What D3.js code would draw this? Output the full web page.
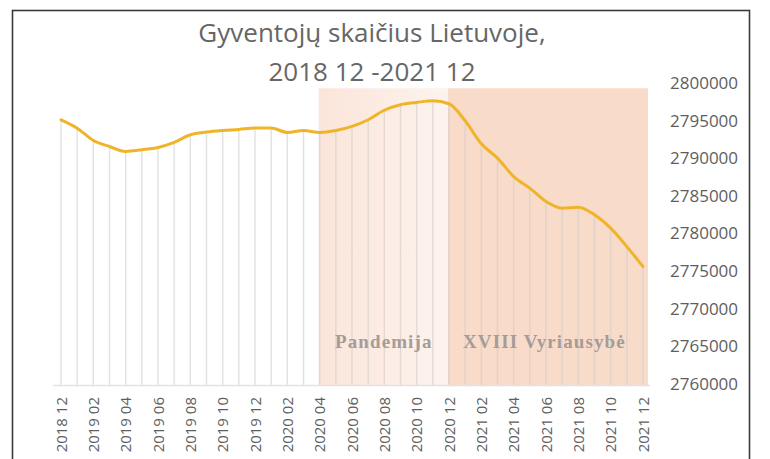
<!DOCTYPE html>
<html lang="lt">
<head>
<meta charset="UTF-8">
<title>Gyventojų skaičius Lietuvoje</title>
<script src="https://d3js.org/d3.v7.min.js"></script>
<style>
body { margin: 0; background: #fff; }
svg { display: block; }
.title { font-family: "Open Sans", "Liberation Sans", sans-serif; font-size: 26px; fill: #666; text-anchor: middle; }
.axis text { font-family: "Open Sans", "Liberation Sans", sans-serif; fill: #5e5e5e; }
.axis path, .axis line { display: none; }
.period { font-family: "Liberation Serif", serif; font-weight: bold; font-size: 19px; fill: #a59c97; letter-spacing: 1.1px; }
</style>
</head>
<body>
<script>
// menesiai ir gyventoju skaicius
var months = ["2018 12","2019 01","2019 02","2019 03","2019 04","2019 05","2019 06","2019 07","2019 08","2019 09","2019 10","2019 11","2019 12",
              "2020 01","2020 02","2020 03","2020 04","2020 05","2020 06","2020 07","2020 08","2020 09","2020 10","2020 11","2020 12",
              "2021 01","2021 02","2021 03","2021 04","2021 05","2021 06","2021 07","2021 08","2021 09","2021 10","2021 11","2021 12"];
var population = [2795100,2794000,2792360,2791560,2790900,2791130,2791430,2792100,2793120,2793480,2793690,2793830,2794010,
                  2794010,2793430,2793690,2793430,2793690,2794230,2795120,2796380,2797110,2797420,2797640,2797240,
                  2794980,2791920,2790020,2787570,2786030,2784250,2783370,2783500,2782480,2780710,2778260,2775600];
var yTicks = [2760000,2765000,2770000,2775000,2780000,2785000,2790000,2795000,2800000];
var periodNames = ["Pandemija", "XVIII Vyriausybė"];
var periodFrom = ["2020 04", "2020 12"];
var periodTo = ["2020 12", "2021 12"];
var titleLines = ["Gyventojų skaičius Lietuvoje,", "2018 12 -2021 12"];

var width = 770, height = 459;
var svg = d3.select('body').append('svg')
    .attr('width', width).attr('height', height);

// remelis
svg.append('rect')
   .attr('x', 12.5).attr('y', 10.5)
   .attr('width', 737).attr('height', 480)
   .attr('fill', '#fff')
   .attr('stroke', '#3a3a3a').attr('stroke-width', 1.6);

var xScale = d3.scalePoint().domain(months).range([61, 643]);
var yScale = d3.scaleLinear().domain([2760000, 2800000]).range([384, 83]);
var plotBottom = 385;

// gradientas pandemijai
var defs = svg.append('defs');
var grad = defs.append('linearGradient').attr('id', 'pand').attr('x1', 0).attr('x2', 1).attr('y1', 0).attr('y2', 0);
grad.append('stop').attr('offset', '0%').attr('stop-color', '#fbe5da');
grad.append('stop').attr('offset', '100%').attr('stop-color', '#fdf3ee');

var fills = ['url(#pand)', '#f9dbc9'];
var shadeTop = yScale(2799300);
svg.selectAll('.shade')
   .data(periodNames)
   .enter().append('rect')
   .attr('class', 'shade')
   .attr('x', function(d, i){ return xScale(periodFrom[i]) - 1; })
   .attr('y', shadeTop)
   .attr('width', function(d, i){ return xScale(periodTo[i]) - xScale(periodFrom[i]) + (i == 1 ? 6 : 1); })
   .attr('height', plotBottom - shadeTop)
   .attr('fill', function(d, i){ return fills[i]; });

// vertikalios linijos nuo tasku
svg.selectAll('.drop')
   .data(population)
   .enter().append('line')
   .attr('class', 'drop')
   .attr('x1', function(d, i){ return xScale(months[i]); })
   .attr('x2', function(d, i){ return xScale(months[i]); })
   .attr('y1', function(d){ return yScale(d); })
   .attr('y2', plotBottom)
   .attr('stroke', '#d0cccc').attr('stroke-opacity', 0.6).attr('stroke-width', 1.4);

// x asies linija
svg.append('line')
   .attr('x1', 53).attr('x2', 650)
   .attr('y1', plotBottom + 0.5).attr('y2', plotBottom + 0.5)
   .attr('stroke', '#e2e2e2').attr('stroke-width', 1.5);

svg.selectAll('.period')
   .data(periodNames)
   .enter().append('text')
   .attr('class', 'period')
   .attr('x', function(d, i){ return i == 0 ? 335 : 463; })
   .attr('y', 348)
   .text(function(d){ return d; });

// linija
var line = d3.line()
    .x(function(d, i){ return xScale(months[i]); })
    .y(function(d){ return yScale(d); })
    .curve(d3.curveMonotoneX);

svg.append('path')
   .datum(population)
   .attr('d', line)
   .attr('fill', 'none')
   .attr('stroke', '#f0b429')
   .attr('stroke-width', 3)
   .attr('stroke-linecap', 'round');

// y asis desineje
var yAxis = d3.axisRight(yScale).tickValues(yTicks).tickSize(0).tickPadding(0).tickFormat(d3.format('d'));
svg.append('g')
   .attr('class', 'axis')
   .attr('transform', 'translate(670,0)')
   .call(yAxis)
   .selectAll('text').style('font-size', '17px');

// x asis
var xAxis = d3.axisBottom(xScale)
    .tickValues(months.filter(function(d, i){ return i % 2 == 0; }))
    .tickSize(0);
svg.append('g')
   .attr('class', 'axis')
   .attr('transform', 'translate(0,' + plotBottom + ')')
   .call(xAxis)
   .selectAll('text')
   .style('font-size', '15px')
   .attr('transform', 'rotate(-90)')
   .attr('text-anchor', 'end')
   .attr('x', -12)
   .attr('y', 0)
   .attr('dy', '0.35em');

svg.selectAll('.title')
   .data(titleLines)
   .enter().append('text')
   .attr('class', 'title')
   .attr('x', 372)
   .attr('y', function(d, i){ return 42 + i * 39; })
   .text(function(d){ return d; });
</script>
</body>
</html>
